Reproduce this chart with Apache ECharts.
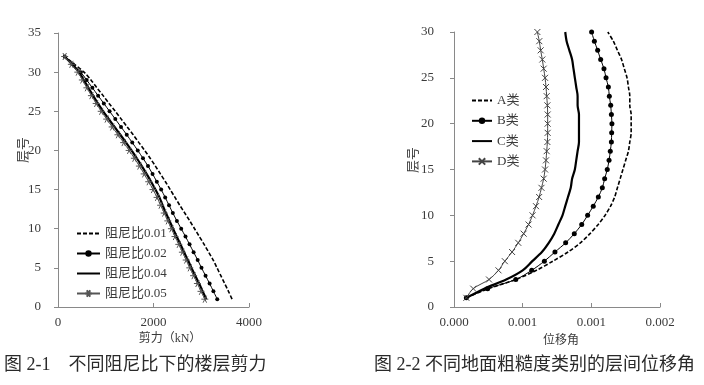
<!DOCTYPE html>
<html><head><meta charset="utf-8">
<script src="https://cdn.jsdelivr.net/npm/echarts@6/dist/echarts.min.js"></script>
<style>html,body{margin:0;padding:0;background:#fff}#c{width:704px;height:385px}</style>
</head><body><div id="c"></div>
<script>
// ---------- Chart 1: 不同阻尼比下的楼层剪力 ----------
const floors1 = [1,2,3,4,5,6,7,8,9,10,11,12,13,14,15,16,17,18,19,20,21,22,23,24,25,26,27,28,29,30,31,32];
const shear001 = [3645,3570,3490,3410,3330,3250,3155,3060,2960,2860,2760,2655,2550,2450,2350,2250,2145,2040,1930,1815,1695,1575,1450,1325,1200,1070,945,815,690,545,345,140];
const shear002 = [3335,3255,3175,3090,3005,2925,2840,2755,2670,2580,2490,2405,2325,2245,2160,2070,1980,1885,1780,1670,1555,1440,1320,1200,1080,960,840,720,600,475,310,140];
const shear004 = [3105,3030,2955,2875,2795,2720,2640,2565,2485,2410,2335,2260,2190,2125,2040,1950,1855,1755,1650,1540,1425,1305,1185,1065,945,835,735,635,540,440,295,140];
const shear005 = [3075,2995,2920,2840,2760,2685,2605,2530,2450,2375,2300,2225,2150,2075,1990,1900,1805,1705,1600,1490,1375,1255,1135,1020,905,800,700,605,510,415,280,140];
const names1 = ['阻尼比0.01','阻尼比0.02','阻尼比0.04','阻尼比0.05'];
const xTicks1 = [0, 2000, 4000];

// ---------- Chart 2: 不同地面粗糙度类别的层间位移角 ----------
const floors2 = [1,2,3,4,5,6,7,8,9,10,11,12,13,14,15,16,17,18,19,20,21,22,23,24,25,26,27,28,29,30];
const driftA = [0.00009,0.00025,0.00045,0.0006,0.00072,0.00083,0.00092,0.00099,0.00105,0.0011,0.00114,0.00117,0.00119,0.00121,0.00123,0.00125,0.00127,0.00128,0.00129,0.00129,0.00129,0.00128,0.00128,0.00127,0.00126,0.00124,0.00122,0.00119,0.00116,0.00112];
const driftB = [0.00009,0.000245,0.00045,0.000566,0.000658,0.000735,0.000813,0.000876,0.00093,0.000973,0.001014,0.001051,0.00108,0.001097,0.001116,0.001129,0.001138,0.001146,0.001148,0.00115,0.001146,0.001141,0.001131,0.001124,0.001107,0.001092,0.001068,0.001046,0.001022,0.001002];
const driftC = [0.00009,0.00022,0.00038,0.0005,0.00057,0.00064,0.00069,0.00073,0.00076,0.00079,0.00081,0.00083,0.00085,0.00086,0.00088,0.00089,0.0009,0.00091,0.00091,0.00091,0.00091,0.0009,0.0009,0.00089,0.00088,0.00087,0.00086,0.00084,0.00082,0.00081];
const driftD = [0.00009,0.00014,0.000255,0.000324,0.00037,0.000423,0.000468,0.000507,0.000543,0.000572,0.000597,0.00062,0.000637,0.000653,0.000663,0.00067,0.000675,0.00068,0.000682,0.000682,0.000682,0.00068,0.000675,0.00067,0.000663,0.000653,0.000643,0.000631,0.000621,0.000607];
const names2 = ['A类','B类','C类','D类'];
const xTickLabels2 = ['0.000','0.001','0.001','0.002'];

const FONT = "'Liberation Serif','Noto Sans CJK SC',serif";
const CJK = "'Noto Sans CJK SC',sans-serif";
const axisGrey = '#898989';
const txt = '#3a3a3a';

function pairs(xs, ys){ return xs.map((x,i)=>[x, ys[i]]); }
const STAR = 'path://M-5,0L5,0M-2.5,-4.33L2.5,4.33M-2.5,4.33L2.5,-4.33';
const CROSS = 'path://M0,0L10,10M0,10L10,0';
const NOSYM = {itemStyle:{opacity:0, color:'rgba(0,0,0,0)', borderWidth:0}};

const chart = echarts.init(document.getElementById('c'), null, {renderer:'canvas'});
const yAxisBase = {
  type:'value', min:0, interval:5,
  axisLine:{show:true, lineStyle:{color:axisGrey, width:1}},
  axisTick:{show:true, inside:false, length:4, lineStyle:{color:axisGrey}},
  axisLabel:{color:txt, fontSize:13, fontFamily:FONT},
  splitLine:{show:false}
};
const xAxisBase = {
  type:'value', min:0,
  axisLine:{show:true, onZero:false, lineStyle:{color:axisGrey, width:1}},
  axisTick:{show:true, inside:true, length:4, lineStyle:{color:axisGrey}},
  splitLine:{show:false}
};
const option = {
  animation:false,
  backgroundColor:'#fff',
  grid:[
    {left:58, top:33, width:191, height:274, containLabel:false, outerBoundsMode:'none'},
    {left:454, top:32, width:206, height:275, containLabel:false, outerBoundsMode:'none'}
  ],
  xAxis:[
    Object.assign({}, xAxisBase, {gridIndex:0, max:xTicks1[xTicks1.length-1], interval:xTicks1[1]-xTicks1[0],
      axisLabel:{color:txt, fontSize:13, fontFamily:FONT, margin:9, formatter:(v)=>String(v)}}),
    Object.assign({}, xAxisBase, {gridIndex:1, max:0.0015, interval:0.0005,
      axisLabel:{color:txt, fontSize:13, fontFamily:FONT, margin:9,
        formatter:(v)=>xTickLabels2[Math.round(v/0.0005)]}})
  ],
  yAxis:[
    Object.assign({}, yAxisBase, {gridIndex:0, max:35, axisLabel:Object.assign({}, yAxisBase.axisLabel, {margin:17})}),
    Object.assign({}, yAxisBase, {gridIndex:1, max:30, axisLabel:Object.assign({}, yAxisBase.axisLabel, {margin:20})})
  ],
  legend:[
    {data:[Object.assign({name:names1[0]}, NOSYM), {name:names1[1]}, Object.assign({name:names1[2]}, NOSYM), {name:names1[3]}],
     orient:'vertical', left:71, top:222, itemWidth:23, itemHeight:8, itemGap:7,
     textStyle:{fontSize:13, fontFamily:FONT, color:txt}},
    {data:[Object.assign({name:names2[0]}, NOSYM), {name:names2[1]}, Object.assign({name:names2[2]}, NOSYM), {name:names2[3]}],
     orient:'vertical', left:466, top:89, itemWidth:20, itemHeight:8, itemGap:7.3,
     textStyle:{fontSize:13, fontFamily:FONT, color:txt}}
  ],
  series:[
    {name:names1[0], type:'line', xAxisIndex:0, yAxisIndex:0, data:pairs(shear001, floors1), smooth:0.3,
     symbol:'none', lineStyle:{color:'#000', width:1.6, type:[4,2]}, itemStyle:{color:'#000'}},
    {name:names1[1], type:'line', xAxisIndex:0, yAxisIndex:0, data:pairs(shear002, floors1), smooth:0.3,
     symbol:'circle', symbolSize:4, lineStyle:{color:'#000', width:1}, itemStyle:{color:'#000'}},
    {name:names1[2], type:'line', xAxisIndex:0, yAxisIndex:0, data:pairs(shear004, floors1), smooth:0.3,
     symbol:'none', lineStyle:{color:'#000', width:2.2}, itemStyle:{color:'#000'}},
    {name:names1[3], type:'line', xAxisIndex:0, yAxisIndex:0, data:pairs(shear005, floors1), smooth:0.3,
     symbol:STAR, symbolSize:7, lineStyle:{color:'#555', width:1},
     itemStyle:{color:'#555', borderColor:'#555', borderWidth:1}},

    {name:names2[0], type:'line', xAxisIndex:1, yAxisIndex:1, data:pairs(driftA, floors2), smooth:0.3,
     symbol:'none', lineStyle:{color:'#000', width:1.6, type:[4,2]}, itemStyle:{color:'#000'}},
    {name:names2[1], type:'line', xAxisIndex:1, yAxisIndex:1, data:pairs(driftB, floors2), smooth:0.3,
     symbol:'circle', symbolSize:5, lineStyle:{color:'#000', width:1}, itemStyle:{color:'#000'}},
    {name:names2[2], type:'line', xAxisIndex:1, yAxisIndex:1, data:pairs(driftC, floors2), smooth:0.3,
     symbol:'none', lineStyle:{color:'#000', width:2.2}, itemStyle:{color:'#000'}},
    {name:names2[3], type:'line', xAxisIndex:1, yAxisIndex:1, data:pairs(driftD, floors2), smooth:0.3,
     symbol:CROSS, symbolSize:6, lineStyle:{color:'#444', width:1},
     itemStyle:{color:'#444', borderColor:'#444', borderWidth:1}}
  ],
  graphic:[
    {type:'text', x:22, y:150, rotation:Math.PI/2, style:{text:'层号', font:'13px '+CJK, fill:txt, align:'center', verticalAlign:'middle'}},
    {type:'text', x:170, y:339, style:{text:'剪力（kN）', font:'12px '+FONT, fill:txt, align:'center', verticalAlign:'middle'}},
    {type:'text', x:412, y:160, rotation:Math.PI/2, style:{text:'层号', font:'13px '+CJK, fill:txt, align:'center', verticalAlign:'middle'}},
    {type:'text', x:561, y:339, style:{text:'位移角', font:'12px '+CJK, fill:txt, align:'center', verticalAlign:'middle'}},
    {type:'text', x:4, y:365, style:{text:'图 2-1    不同阻尼比下的楼层剪力', font:'18px '+FONT, fill:'#2a2a2a', align:'left', verticalAlign:'middle'}},
    {type:'text', x:374, y:365, style:{text:'图 2-2 不同地面粗糙度类别的层间位移角', font:'18px '+FONT, fill:'#2a2a2a', align:'left', verticalAlign:'middle'}}
  ]
};
chart.setOption(option);
</script>
</body></html>
